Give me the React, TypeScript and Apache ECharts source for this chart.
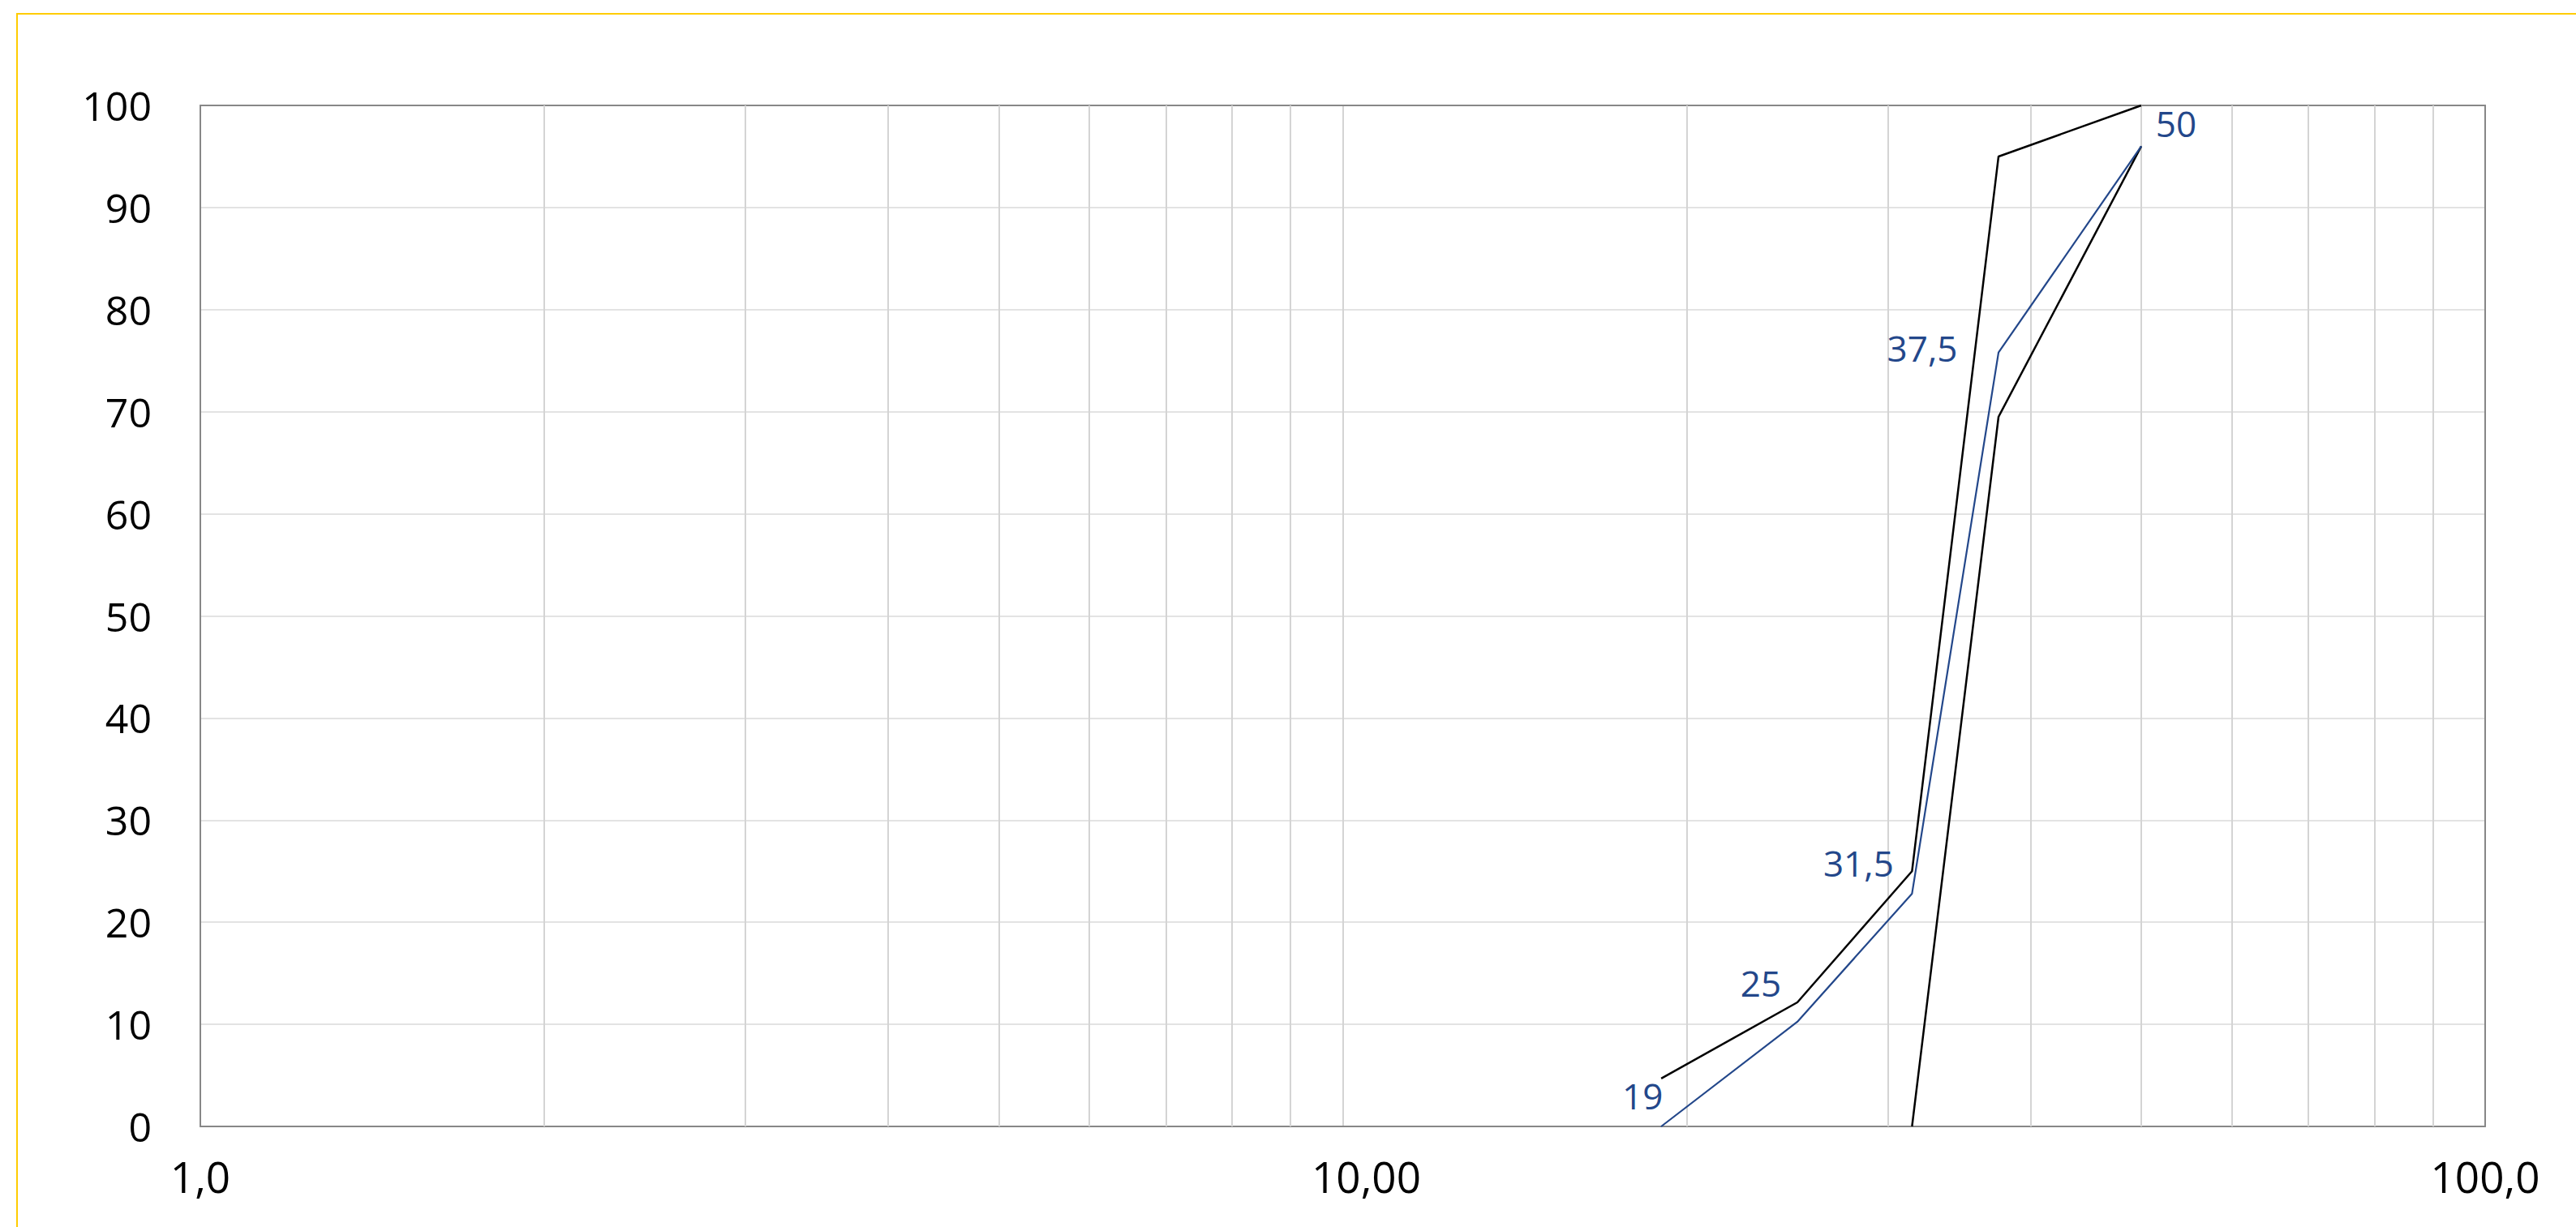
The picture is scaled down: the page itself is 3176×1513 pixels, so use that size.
import React, { useEffect, useRef } from 'react';
import * as echarts from 'echarts';

// ---- data ----
const X_TICKS = [1, 10, 100];
const X_TICK_LABELS = ['1,0', '10,00', '100,0'];
const MINOR_X = [2, 3, 4, 5, 6, 7, 8, 9, 20, 30, 40, 50, 60, 70, 80, 90];
const POINT_X = [19, 25, 31.5, 37.5, 50];
const POINT_LABELS = ['19', '25', '31,5', '37,5', '50'];
const BLUE_Y = [0, 10.25, 22.8, 75.8, 96];
const UPPER_Y = [4.7, 12.15, 25.0, 95.0, 100];
const LOWER_X = [31.5, 37.5, 50];
const LOWER_Y = [0, 69.5, 96];

// ---- style ----
const LABEL_OFFSETS = [[-23, -38], [-45, -48], [-66, -38], [-94, -6], [43, -28]];
const FONT = "'Open Sans', 'DejaVu Sans', sans-serif";
const BLUE = '#23478A';
const W = 3176;
const H = 1513;

function fmtX(v: number): string {
  let best = 0;
  let bd = Infinity;
  X_TICKS.forEach((t, i) => {
    const d = Math.abs(Math.log10(v) - Math.log10(t));
    if (d < bd) { bd = d; best = i; }
  });
  if (bd > 0.01) return '';
  const txt = X_TICK_LABELS[best];
  return X_TICKS[best] === 10 ? '{s|' + txt + '}' : txt;
}

export default function App() {
  const ref = useRef<HTMLDivElement>(null);
  useEffect(() => {
    if (!ref.current) return;
    const chart = echarts.init(ref.current, undefined, { renderer: 'svg', width: W, height: H });
    const blueData = POINT_X.map((x, i) => ({
      value: [x, BLUE_Y[i]],
      label: {
        show: true,
        position: 'inside',
        offset: LABEL_OFFSETS[i],
        formatter: POINT_LABELS[i],
        color: BLUE,
        fontSize: 44,
        fontFamily: FONT,
        align: 'center',
        verticalAlign: 'middle',
      },
    }));
    chart.setOption({
      animation: false,
      backgroundColor: '#ffffff',
      textStyle: { fontFamily: FONT },
      graphic: [
        {
          type: 'rect',
          shape: { x: 21, y: 17, width: 4000, height: 4000 },
          style: { fill: 'none', stroke: '#FFCC00', lineWidth: 2 },
          silent: true,
          z: 100,
        },
      ],
      grid: { left: 247, top: 130, right: W - 3064, bottom: H - 1389, containLabel: false },
      xAxis: [
        {
          type: 'log',
          logBase: 10,
          min: 1,
          max: 100,
          axisLine: { show: true, lineStyle: { color: '#878787', width: 2 } },
          axisTick: { show: false },
          axisLabel: {
            show: true,
            fontSize: 53,
            color: '#000',
            margin: 35,
            fontFamily: FONT,
            formatter: (v: number) => fmtX(v),
            rich: { s: { fontSize: 53, color: '#000', fontFamily: FONT, padding: [0, 0, 0, 58] } },
          },
          splitLine: { show: true, lineStyle: { color: '#d4d4d4', width: 2 } },
        },
        {
          type: 'value',
          position: 'top',
          min: 0,
          max: 1,
          axisLine: { show: true, onZero: false, lineStyle: { color: '#878787', width: 2 } },
          axisTick: { show: false },
          axisLabel: { show: false },
          splitLine: { show: false },
        },
      ],
      yAxis: [
        {
          type: 'value',
          min: 0,
          max: 100,
          interval: 10,
          axisLine: { show: true, lineStyle: { color: '#878787', width: 2 } },
          axisTick: { show: false },
          axisLabel: { fontSize: 50, color: '#000', margin: 60, fontFamily: FONT },
          splitLine: { show: true, lineStyle: { color: '#e3e3e3', width: 2 } },
        },
        {
          type: 'value',
          position: 'right',
          min: 0,
          max: 1,
          axisLine: { show: true, onZero: false, lineStyle: { color: '#878787', width: 2 } },
          axisTick: { show: false },
          axisLabel: { show: false },
          splitLine: { show: false },
        },
      ],
      series: [
        {
          name: 'minorGrid',
          type: 'line',
          data: [[1, 0]],
          symbol: 'none',
          lineStyle: { width: 0 },
          silent: true,
          z: 1,
          markLine: {
            silent: true,
            z: 1,
            symbol: ['none', 'none'],
            label: { show: false },
            lineStyle: { color: '#d4d4d4', width: 2, type: 'solid' },
            emphasis: { disabled: true },
            data: MINOR_X.map((x) => ({ xAxis: x })),
          },
        },
        {
          name: 'upper',
          type: 'line',
          data: POINT_X.map((x, i) => [x, UPPER_Y[i]]),
          symbol: 'none',
          lineStyle: { color: '#000', width: 2.5 },
          silent: true,
          z: 3,
        },
        {
          name: 'lower',
          type: 'line',
          data: LOWER_X.map((x, i) => [x, LOWER_Y[i]]),
          symbol: 'none',
          lineStyle: { color: '#000', width: 2.5 },
          silent: true,
          z: 3,
        },
        {
          name: 'blue',
          type: 'line',
          data: blueData,
          symbol: 'circle',
          symbolSize: 1,
          itemStyle: { color: BLUE },
          lineStyle: { color: BLUE, width: 2.2 },
          silent: true,
          z: 4,
        },
      ],
    });
    return () => chart.dispose();
  }, []);
  return <div ref={ref} style={{ position: 'fixed', left: 0, top: 0, width: W, height: H, background: '#fff' }} />;
}
